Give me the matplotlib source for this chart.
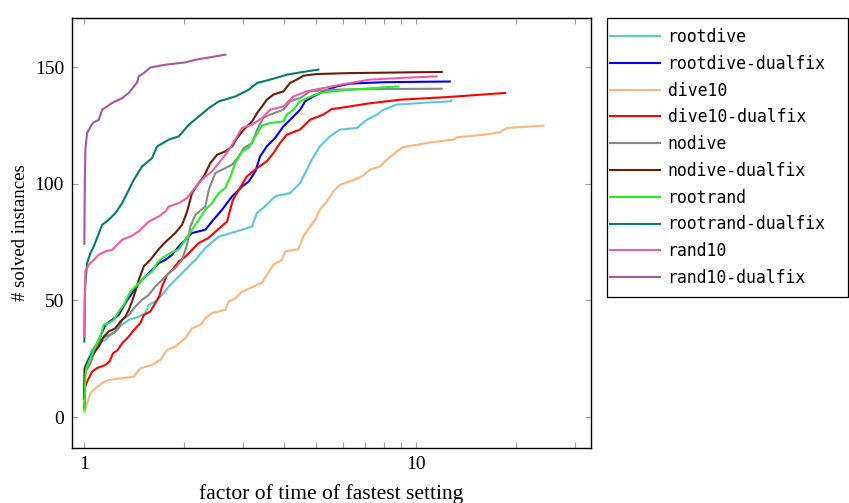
import matplotlib
matplotlib.use("Agg")
import matplotlib.pyplot as plt
from matplotlib.patches import Rectangle
from matplotlib.ticker import LogLocator, FixedLocator, NullFormatter, FixedFormatter

# performance profile data (factor of fastest time, # solved)
rootdive_x = [1.0, 1.003, 1.055, 1.105, 1.157, 1.212, 1.299, 1.361, 1.458, 1.527,
              1.563, 1.636, 1.714, 1.796, 1.879, 1.969, 2.063, 2.160, 2.314, 2.541,
              2.985, 3.200, 3.306, 3.543, 3.753, 4.165, 4.463, 4.677, 4.841, 5.122,
              5.490, 5.884, 6.614, 7.088, 7.597, 7.955, 8.730, 10.24, 12.61, 12.75]
rootdive_y = [5, 21.7, 28.8, 31.7, 33.1, 36, 39.6, 41.7, 43.1, 44.6,
              48.1, 49.6, 52.4, 56, 58.8, 61.7, 64.6, 67.4, 72.5, 77.4,
              80.3, 81.7, 87.4, 91, 94.6, 96, 100.3, 106, 110.3, 116,
              120.3, 123.2, 123.9, 127.4, 129.6, 131.7, 133.9, 134.6, 135.3, 135.7]

rootdive_df_x = [1.0, 1.003, 1.055, 1.105, 1.157, 1.212, 1.269, 1.329, 1.392, 1.458,
                 1.527, 1.599, 1.675, 1.754, 1.837, 1.925, 2.015, 2.110, 2.314, 2.422,
                 2.599, 2.786, 2.985, 3.128, 3.273, 3.382, 3.543, 3.753, 3.976, 4.165,
                 4.463, 4.622, 4.895, 5.248, 5.757, 6.306, 7.955, 12.61]
rootdive_df_y = [8, 21, 27.4, 33.1, 39.6, 41.7, 43.8, 48.9, 53.1, 57.4,
                 60.3, 63.1, 66, 67.4, 69.6, 73.1, 76, 78.9, 80.3, 83.8,
                 88.9, 94.6, 98.8, 101, 105.3, 111.7, 116, 119.6, 124.6, 127.4,
                 131.7, 135.3, 137.4, 139.6, 141.7, 142.9, 143.5, 143.8]

dive10_x = [1.0, 1.006, 1.019, 1.043, 1.079, 1.131, 1.184, 1.299, 1.409, 1.475,
            1.599, 1.694, 1.775, 1.879, 2.015, 2.110, 2.236, 2.314, 2.422, 2.659,
            2.722, 2.850, 2.985, 3.237, 3.429, 3.543, 3.710, 3.932, 4.023, 4.411,
            4.567, 4.785, 4.954, 5.122, 5.373, 5.623, 5.884, 6.306, 6.847, 7.243,
            7.763, 8.142, 8.730, 9.139, 10.03, 10.99, 12.93, 13.24, 15.91, 17.83,
            18.73, 24.13]
dive10_y = [2, 3.1, 6, 10.3, 12.4, 14.6, 16, 16.7, 17.4, 21,
            22.4, 24.6, 28.8, 30.3, 33.9, 38.1, 39.6, 42.4, 44.6, 46,
            49.6, 51, 53.8, 56, 57.7, 61, 65.3, 67.4, 71, 72,
            77.4, 81.7, 84.6, 88.9, 92.4, 96.7, 99.6, 101, 103.1, 106,
            107.4, 110.3, 113.9, 115.7, 116.7, 117.7, 118.9, 119.9, 121, 122,
            123.9, 124.9]

dive10_df_x = [1.0, 1.003, 1.005, 1.025, 1.055, 1.09, 1.157, 1.19, 1.22, 1.26,
               1.30, 1.36, 1.41, 1.475, 1.51, 1.58, 1.636, 1.68, 1.714, 1.775,
               1.84, 1.925, 2.015, 2.11, 2.21, 2.36, 2.52, 2.69, 2.75, 2.80,
               3.08, 3.31, 3.54, 3.71, 3.88, 4.07, 4.46, 4.78, 5.24, 5.56,
               6.31, 7.09, 8.92, 12.6, 18.5]
dive10_df_y = [4, 7, 13, 16, 19.5, 21, 22.4, 23.8, 27.4, 28.8,
               31.7, 34.5, 37.4, 40.3, 43.8, 45.3, 48.9, 51.7, 56, 61,
               63.1, 66.7, 68.8, 71.7, 74.6, 76.7, 80.3, 83.8, 88.9, 93,
               103, 106.7, 109.6, 113.1, 117.4, 121, 123.2, 127.4, 129.6, 132,
               133.1, 134.3, 136, 137.2, 138.9]

nodive_x = [1.0, 1.003, 1.043, 1.079, 1.117, 1.157, 1.226, 1.269, 1.299, 1.361,
            1.424, 1.492, 1.563, 1.636, 1.714, 1.796, 1.879, 1.969, 2.039, 2.086,
            2.160, 2.314, 2.370, 2.481, 2.659, 2.786, 2.918, 3.021, 3.200, 3.313,
            3.460, 3.625, 3.976, 4.165, 4.463, 4.785, 5.623, 7.955, 11.92]
nodive_y = [8, 18.9, 23.1, 28.8, 33.1, 34.5, 36, 38.1, 41.7, 43.8,
            47.4, 50.3, 52.4, 56, 58.8, 61.7, 63.9, 67.4, 74, 81.7,
            86.7, 90.3, 97.4, 104.6, 106.7, 108.2, 111.7, 115.3, 117.4, 123.2,
            128.2, 129.6, 131.7, 135.3, 136.7, 139.6, 140.3, 140.6, 140.7]

nodive_df_x = [1.0, 1.003, 1.031, 1.067, 1.105, 1.144, 1.184, 1.240, 1.284, 1.329,
               1.361, 1.392, 1.424, 1.458, 1.510, 1.580, 1.675, 1.754, 1.816, 1.879,
               1.969, 2.039, 2.110, 2.211, 2.289, 2.396, 2.510, 2.659, 2.786, 2.884,
               3.021, 3.200, 3.313, 3.429, 3.543, 3.710, 3.976, 4.165, 4.362, 4.567,
               5.012, 6.306, 11.92]
nodive_df_y = [8, 21, 24.6, 27.4, 30.3, 34.5, 36.7, 38.1, 41, 43.1,
               46, 49.6, 53.8, 58.8, 64.6, 67.4, 72, 75, 77, 78.9,
               82.4, 88.1, 96, 100.3, 103.1, 108.9, 112.4, 113.9, 116, 119.6,
               123.2, 126.7, 130.3, 133.1, 136, 138.2, 139.6, 143.2, 144.6, 146.3,
               147, 147.4, 147.9]

rootrand_x = [1.0, 1.006, 1.012, 1.043, 1.079, 1.117, 1.144, 1.184, 1.226, 1.269,
              1.314, 1.376, 1.441, 1.510, 1.599, 1.656, 1.714, 1.816, 1.925, 1.992,
              2.110, 2.211, 2.314, 2.422, 2.541, 2.659, 2.753, 2.850, 2.985, 3.128,
              3.273, 3.429, 3.625, 3.976, 4.067, 4.262, 4.463, 4.677, 5.122, 5.623,
              6.306, 8.827]
rootrand_y = [3, 16, 21, 25.3, 30.3, 34.5, 39.6, 40.3, 41.7, 45.3,
              48.1, 53.8, 56.7, 59.6, 62.4, 66, 68.1, 70.3, 72, 75,
              80.3, 84.6, 88.9, 91.7, 96, 98.2, 103.1, 108.9, 113.9, 115.5,
              120.3, 125, 126, 126.7, 129.6, 131.7, 135.3, 136.7, 138.9, 139.6,
              140.3, 141.7]

rootrand_df_x = [1.0, 1.003, 1.007, 1.019, 1.043, 1.067, 1.131, 1.184, 1.240, 1.299,
                 1.361, 1.409, 1.492, 1.599, 1.656, 1.796, 1.925, 2.063, 2.185, 2.370,
                 2.541, 2.850, 3.128, 3.313, 3.625, 4.070, 4.463, 5.068]
rootrand_df_y = [32.4, 50, 57.4, 66, 70.3, 73.1, 82.4, 84.6, 87.4, 91.7,
                 97.4, 101.7, 107.4, 111, 116, 118.9, 120.3, 125.3, 128.2, 132.4,
                 135.3, 137.4, 140.3, 143.2, 144.6, 146.7, 147.7, 148.9]

rand10_x = [1.0, 1.003, 1.007, 1.031, 1.067, 1.105, 1.157, 1.212, 1.240, 1.299,
            1.376, 1.458, 1.563, 1.675, 1.754, 1.796, 1.925, 2.039, 2.110, 2.211,
            2.314, 2.422, 2.541, 2.659, 2.786, 2.884, 2.985, 3.200, 3.429, 3.625,
            3.976, 4.262, 4.677, 5.248, 6.155, 7.243, 8.917, 11.5]
rand10_y = [34.5, 50, 62.4, 65.3, 67.4, 69.6, 71, 71.7, 73.1, 76,
            77.4, 79.6, 83.8, 86, 88.1, 90.3, 91.7, 93.9, 96.7, 100.3,
            103.1, 105.3, 108.9, 112.4, 116.7, 120.3, 123.9, 125.3, 128.2, 131.7,
            133.1, 137.4, 139.6, 141, 142.9, 144.6, 145.3, 146]

rand10_df_x = [1.0, 1.003, 1.007, 1.019, 1.043, 1.060, 1.105, 1.131, 1.212, 1.299,
               1.361, 1.441, 1.458, 1.510, 1.580, 1.755, 2.015, 2.160, 2.422, 2.659]
rand10_df_y = [74.3, 100, 114.6, 121.7, 124.3, 126, 127.4, 131.7, 134.6, 136.7,
               138.9, 143.4, 146, 147.4, 149.8, 151, 152, 153.1, 154.3, 155.3]

names = ["rootdive", "rootdive-dualfix", "dive10", "dive10-dualfix", "nodive",
         "nodive-dualfix", "rootrand", "rootrand-dualfix", "rand10", "rand10-dualfix"]
series = [(rootdive_x, rootdive_y), (rootdive_df_x, rootdive_df_y),
          (dive10_x, dive10_y), (dive10_df_x, dive10_df_y),
          (nodive_x, nodive_y), (nodive_df_x, nodive_df_y),
          (rootrand_x, rootrand_y), (rootrand_df_x, rootrand_df_y),
          (rand10_x, rand10_y), (rand10_df_x, rand10_df_y)]
colors = ["#5bc5dc", "#0000ff", "#fdb57c", "#ff0000", "#888888",
          "#6b1c08", "#22f022", "#00806c", "#ee5ca6", "#a8569c"]

serif = "Liberation Serif"
W, H = 849, 503

fig = plt.figure(figsize=(8.49, 5.03), dpi=100)
ax = fig.add_axes([0.0852, 0.1093, 0.6106, 0.8549])

for (xs, ys), name, c in zip(series, names, colors):
    ax.plot(xs, ys, color=c, lw=1.5, label=name, solid_joinstyle="round")

ax.set_xscale("log")
ax.set_xlim(0.92, 33.5)
ax.set_ylim(-13.2, 171)

ax.xaxis.set_major_locator(FixedLocator([1, 10]))
ax.xaxis.set_major_formatter(FixedFormatter(["1", "10"]))
ax.xaxis.set_minor_locator(LogLocator(base=10, subs=range(2, 10)))
ax.xaxis.set_minor_formatter(NullFormatter())
ax.set_yticks([0, 50, 100, 150])

ax.tick_params(which="both", direction="in", top=True, right=True,
               color="#a0a0a0", length=4.5, width=0.8, labelsize=14, pad=6)
for lab in ax.get_xticklabels() + ax.get_yticklabels():
    lab.set_family(serif)
for sp in ax.spines.values():
    sp.set_linewidth(1.0)

ax.set_xlabel("factor of time of fastest setting", family=serif, fontsize=15.5, labelpad=8)
ax.set_ylabel("# solved instances", family=serif, fontsize=13.5, labelpad=4)

# legend without its own frame, box drawn separately to match the reference
leg = fig.legend(loc="upper left", bbox_to_anchor=(610 / W, 1 - 28 / H), borderaxespad=0,
                 prop={"family": "DejaVu Sans Mono", "size": 11.9},
                 frameon=False, borderpad=0,
                 handlelength=3.0, handletextpad=0.48, labelspacing=0.53)
fig.patches.append(Rectangle((607 / W, 1 - 297 / H), 241 / W, 279 / H,
                             transform=fig.transFigure, fill=False,
                             edgecolor="black", linewidth=0.9))

fig.savefig("out.png", dpi=100)
